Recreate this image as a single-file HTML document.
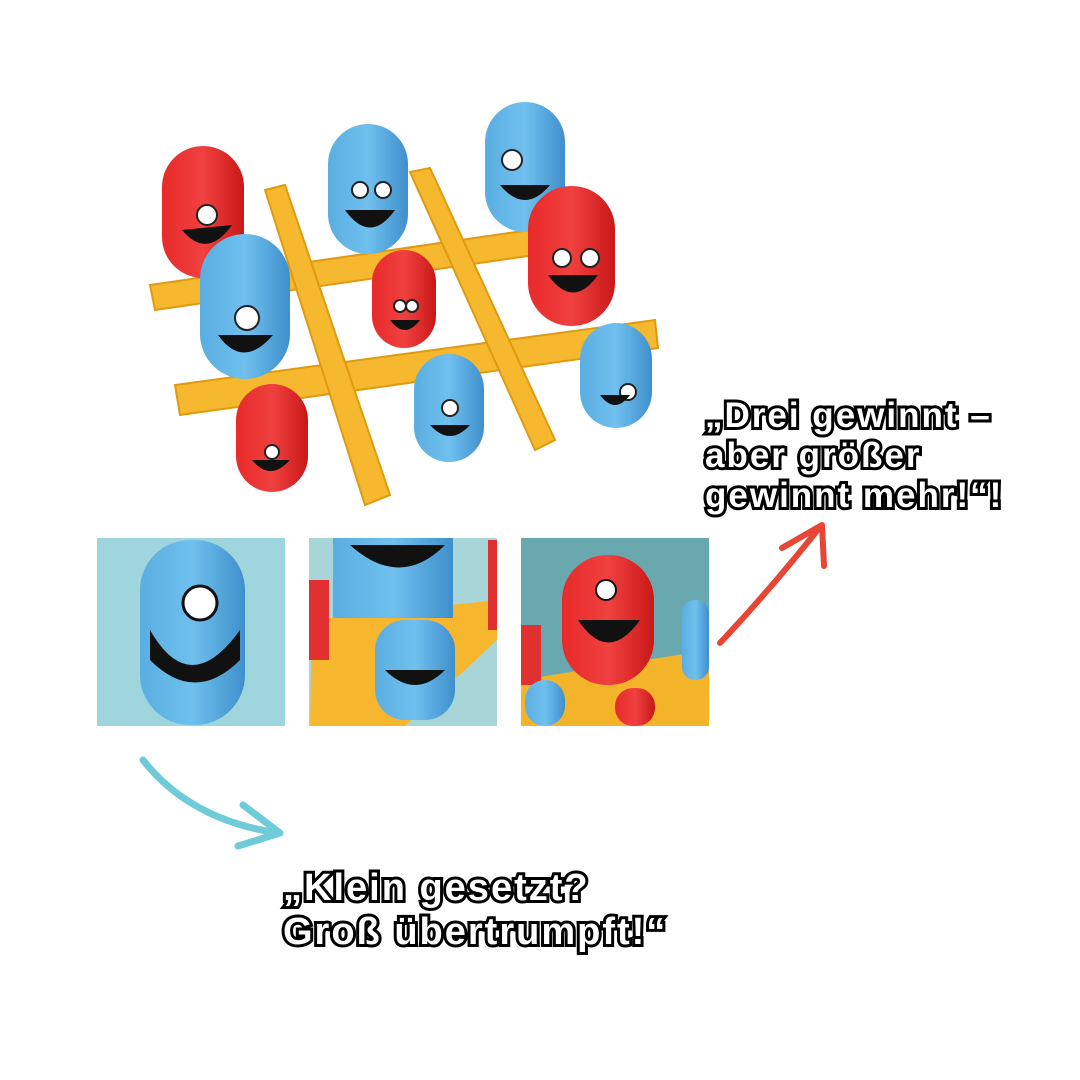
<!DOCTYPE html>
<html><head><meta charset="utf-8"><style>
html,body{margin:0;padding:0;background:#fff;width:1080px;height:1080px;overflow:hidden;position:relative}
.t{position:absolute;font-family:"Liberation Sans",sans-serif;font-weight:900;color:#fff;letter-spacing:2px;
-webkit-text-stroke:6px #000;paint-order:stroke fill;
text-shadow:2px 0 #000,-2px 0 #000,0 2px #000,0 -2px #000,2px 2px #000,-2px -2px #000,2px -2px #000,-2px 2px #000}
</style></head><body>
<svg width="1080" height="1080" style="position:absolute;left:0;top:0">
<defs>
<linearGradient id="bl" x1="0" x2="1"><stop offset="0" stop-color="#5aaee0"/><stop offset="0.5" stop-color="#6fc0ee"/><stop offset="1" stop-color="#3f8fcc"/></linearGradient>
<linearGradient id="rd" x1="0" x2="1"><stop offset="0" stop-color="#e82a2a"/><stop offset="0.5" stop-color="#f04040"/><stop offset="1" stop-color="#c81818"/></linearGradient>
</defs>
<g fill="#f5b82e" stroke="#e09a10" stroke-width="2">
<polygon points="150,285 530,230 535,255 155,310"/>
<polygon points="175,385 655,320 658,348 180,415"/>
<polygon points="265,190 285,185 390,495 365,505"/>
<polygon points="410,172 430,168 555,440 535,450"/>
</g>
<g>
<rect x="162" y="146" width="82" height="132" rx="41" fill="url(#rd)"/>
<rect x="328" y="124" width="80" height="130" rx="40" fill="url(#bl)"/>
<rect x="485" y="102" width="80" height="130" rx="40" fill="url(#bl)"/>
<rect x="528" y="186" width="87" height="140" rx="43" fill="url(#rd)"/>
<rect x="200" y="234" width="90" height="145" rx="45" fill="url(#bl)"/>
<rect x="372" y="250" width="64" height="98" rx="32" fill="url(#rd)"/>
<rect x="580" y="323" width="72" height="105" rx="36" fill="url(#bl)"/>
<rect x="414" y="354" width="70" height="108" rx="35" fill="url(#bl)"/>
<rect x="236" y="384" width="72" height="108" rx="36" fill="url(#rd)"/>
</g>
<g fill="#fff" stroke="#222" stroke-width="2">
<circle cx="207" cy="215" r="10"/><circle cx="360" cy="190" r="8"/><circle cx="383" cy="190" r="8"/>
<circle cx="512" cy="160" r="10"/><circle cx="562" cy="258" r="9"/><circle cx="590" cy="258" r="9"/>
<circle cx="247" cy="318" r="12"/><circle cx="400" cy="306" r="6"/><circle cx="412" cy="306" r="6"/>
<circle cx="628" cy="392" r="8"/><circle cx="450" cy="408" r="8"/><circle cx="272" cy="452" r="7"/>
</g>
<g fill="#111">
<path d="M182,230 q25,30 50,-5 z"/><path d="M345,210 q25,35 50,0 z"/><path d="M500,185 q25,30 50,0 z"/>
<path d="M548,275 q25,35 50,0 z"/><path d="M218,335 q25,35 55,0 z"/><path d="M390,320 q15,20 30,0 z"/>
<path d="M600,395 q15,20 30,0 z"/><path d="M430,425 q20,22 40,0 z"/><path d="M252,460 q18,22 38,0 z"/>
</g>
<rect x="97" y="538" width="188" height="188" fill="#9fd5dc"/>
<rect x="309" y="538" width="188" height="188" fill="#a8d6d8"/>
<rect x="521" y="538" width="188" height="188" fill="#6aa8b0"/>
<rect x="140" y="540" width="105" height="185" rx="50" fill="url(#bl)"/>
<path d="M150,630 q40,70 90,0 l0,30 q-45,45 -90,0z" fill="#111"/>
<circle cx="200" cy="603" r="17" fill="#fff" stroke="#111" stroke-width="3"/>
<polygon points="312,620 497,600 497,640 405,726 310,726" fill="#f6b72e"/>
<rect x="309" y="580" width="20" height="80" fill="#e03030"/>
<rect x="488" y="540" width="9" height="90" fill="#e03030"/>
<rect x="333" y="538" width="120" height="80" fill="url(#bl)"/>
<rect x="375" y="620" width="80" height="100" rx="30" fill="url(#bl)"/>
<path d="M350,545 q50,45 95,0z" fill="#111"/><path d="M385,670 q30,30 60,0z" fill="#111"/>
<polygon points="521,680 709,650 709,726 521,726" fill="#f4b42a"/>
<rect x="562" y="555" width="92" height="130" rx="45" fill="url(#rd)"/>
<circle cx="606" cy="590" r="10" fill="#fff" stroke="#111" stroke-width="2"/>
<path d="M578,620 q30,45 62,0z" fill="#111"/>
<rect x="682" y="600" width="27" height="80" rx="13" fill="url(#bl)"/>
<rect x="521" y="625" width="20" height="60" fill="#e03030"/>
<rect x="525" y="680" width="40" height="46" rx="20" fill="url(#bl)"/>
<rect x="615" y="688" width="40" height="38" rx="18" fill="url(#rd)"/>
<path d="M143,760 Q190,820 278,833" fill="none" stroke="#70cbd8" stroke-width="7" stroke-linecap="round"/>
<path d="M243,805 L280,833 L238,846" fill="none" stroke="#70cbd8" stroke-width="7" stroke-linecap="round" stroke-linejoin="round"/>
<path d="M720,643 Q770,590 820,527" fill="none" stroke="#e84535" stroke-width="6" stroke-linecap="round"/>
<path d="M782,548 L822,525 L824,566" fill="none" stroke="#e84535" stroke-width="6" stroke-linecap="round" stroke-linejoin="round"/>
</svg>
<div class="t" style="left:705px;top:396px;font-size:35px;line-height:40px">„Drei gewinnt –<br>aber größer<br>gewinnt mehr!“!</div>
<div class="t" style="left:283px;top:866px;font-size:38px;line-height:44px">„Klein gesetzt?<br>Groß übertrumpft!“</div>
</body></html>
